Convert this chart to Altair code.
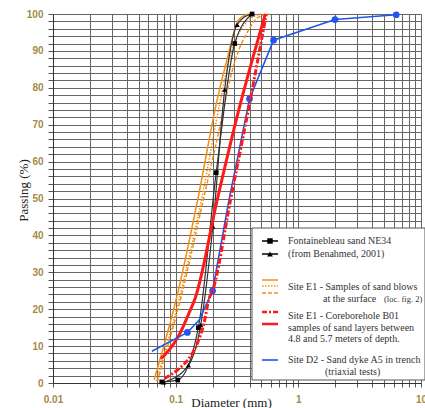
import altair as alt
import pandas as pd

# ---------------- data ----------------
# Fontainebleau sand NE34 (squares)
sq_d = [0.077, 0.104, 0.153, 0.214, 0.303, 0.42]
sq_p = [0.3, 0.8, 15, 57, 92, 100]
# Fontainebleau sand NE34 (triangles, Benahmed 2001)
tri_d = [0.08, 0.127, 0.16, 0.201, 0.251, 0.317, 0.41]
tri_p = [0.2, 4.8, 15.7, 42.4, 79.5, 97.1, 100]
# Site E1 sand blows: solid / dotted / dashed
os_d = [0.0668, 0.105, 0.152, 0.218, 0.262, 0.327, 0.394]
os_p = [0.9, 25, 50, 76.8, 87.6, 98.5, 100]
ot_d = [0.0695, 0.109, 0.163, 0.232, 0.275, 0.33, 0.40, 0.50]
ot_p = [0.5, 24, 50, 76.8, 88, 95, 98.5, 100]
oa_d = [0.071, 0.112, 0.169, 0.245, 0.267, 0.307, 0.394, 0.46, 0.58]
oa_p = [0.5, 24, 50, 74, 80, 87.6, 95.7, 98.9, 100]
# Site E1 coreborehole B01: solid / dash-dot
rs_d = [0.0757, 0.0884, 0.1066, 0.128, 0.1456, 0.218, 0.327, 0.538]
rs_p = [6.6, 8.9, 13, 18.8, 23.4, 49.6, 74, 100]
rd_d = [0.081, 0.1066, 0.128, 0.15, 0.17, 0.186, 0.202, 0.28, 0.406, 0.548]
rd_p = [1.2, 3.9, 6.6, 10.7, 16.1, 22.5, 25.5, 49.6, 76.8, 100]
# Site D2 sand dyke A5
bl_d = [0.064, 0.1245, 0.155, 0.2, 0.27, 0.40, 0.628, 1.99, 6.28]
bl_p = [8.6, 13.7, 17, 25, 49, 77, 92.9, 98.5, 99.8]
bl_m = [False, True, False, True, False, True, True, True, True]

x_ticks = [round(m * 10 ** k, 4) for k in (-2, -1, 0) for m in range(1, 10)] + [10]
y_ticks = list(range(0, 101, 2))

LABEL_COLOR = "#a48a4a"
GRID = "#666666"

xenc = alt.X(
    "d:Q",
    scale=alt.Scale(type="log", domain=[0.01, 10], nice=False),
    axis=alt.Axis(
        values=x_ticks,
        labelExpr="datum.value == 0.01 ? '0.01' : datum.value == 0.1 ? '0.1' : datum.value == 1 ? '1' : datum.value == 10 ? '10' : ''",
        labelOverlap=False,
        labelBound=False,
        labelFlush=False,
        grid=True,
        gridColor=GRID,
        gridWidth=1,
        tickColor="#555",
        tickSize=4,
        labelPadding=7,
        labelFont="Liberation Sans",
        labelFontSize=10,
        labelFontWeight="bold",
        labelColor=LABEL_COLOR,
        domainColor="#333",
        title="Diameter (mm)",
        titleFont="Liberation Serif",
        titleFontSize=13,
        titleFontWeight="normal",
        titleColor="#222",
        titleX=178,
        titleY=23,
        titleAlign="center",
        titleBaseline="alphabetic",
    ),
)
yenc = alt.Y(
    "p:Q",
    scale=alt.Scale(domain=[0, 100], nice=False),
    axis=alt.Axis(
        values=y_ticks,
        labelExpr="datum.value % 10 == 0 ? datum.label : ''",
        labelOverlap=False,
        grid=True,
        gridColor=GRID,
        gridWidth=1,
        tickColor="#555",
        tickSize=5,
        labelPadding=5,
        labelFont="Liberation Sans",
        labelFontSize=10,
        labelFontWeight="bold",
        labelColor=LABEL_COLOR,
        domainColor="#333",
        title="Passing (%)",
        titleFont="Liberation Serif",
        titleFontSize=13,
        titleFontWeight="normal",
        titleColor="#222",
        titleX=-30,
        titleY=176,
        titleAngle=270,
        titleAlign="center",
        titleBaseline="middle",
    ),
)


def df(d, p):
    return pd.DataFrame({"d": d, "p": p})


one = pd.DataFrame({"k": [0]})

ORANGE = "#f39019"
RED = "#ff1a1a"
BLUE = "#1f55f0"

layers = []
# legend box (covers grid)
layers.append(
    alt.Chart(one).mark_rect(fill="white", stroke="#555", strokeWidth=1).encode(
        x=alt.value(199), x2=alt.value(372), y=alt.value(214), y2=alt.value(366)
    )
)

# curves
layers.append(alt.Chart(df(os_d, os_p)).mark_line(color=ORANGE, strokeWidth=1.5, interpolate="monotone").encode(x=xenc, y=yenc))
layers.append(alt.Chart(df(ot_d, ot_p)).mark_line(color=ORANGE, strokeWidth=1.5, strokeDash=[1.5, 1.5], interpolate="monotone").encode(x=xenc, y=yenc))
layers.append(alt.Chart(df(oa_d, oa_p)).mark_line(color=ORANGE, strokeWidth=1.5, strokeDash=[4, 2], interpolate="monotone").encode(x=xenc, y=yenc))

layers.append(alt.Chart(df(sq_d, sq_p)).mark_line(color="#333", strokeWidth=1.2, interpolate="monotone").encode(x=xenc, y=yenc))
layers.append(alt.Chart(df(tri_d, tri_p)).mark_line(color="#333", strokeWidth=1.2, interpolate="monotone").encode(x=xenc, y=yenc))
layers.append(alt.Chart(df(sq_d, sq_p)).mark_point(shape="square", filled=True, color="black", size=22, opacity=1).encode(x=xenc, y=yenc))
layers.append(alt.Chart(df(tri_d, tri_p)).mark_point(shape="triangle-up", filled=True, color="black", size=26, opacity=1).encode(x=xenc, y=yenc))

layers.append(alt.Chart(df(rs_d, rs_p)).mark_line(color=RED, strokeWidth=3, interpolate="monotone").encode(x=xenc, y=yenc))

bl = pd.DataFrame({"d": bl_d, "p": bl_p, "m": bl_m})
layers.append(alt.Chart(bl).mark_line(color=BLUE, strokeWidth=1.6).encode(x=xenc, y=yenc))
layers.append(alt.Chart(bl).mark_circle(color=BLUE, size=45, opacity=1).encode(x=xenc, y=yenc).transform_filter("datum.m"))

layers.append(alt.Chart(df(rd_d, rd_p)).mark_line(color=RED, strokeWidth=3, strokeDash=[6, 2, 2, 2], interpolate="monotone").encode(x=xenc, y=yenc))

# legend content
LX1, LX2, LXM, TX = 209, 225, 217, 235


def rule(y, color, width, dash=None):
    kw = dict(color=color, strokeWidth=width)
    if dash:
        kw["strokeDash"] = dash
    return alt.Chart(one).mark_rule(**kw).encode(x=alt.value(LX1), x2=alt.value(LX2), y=alt.value(y))


def txt(x, y, s, size=10):
    return alt.Chart(one).mark_text(
        align="left", baseline="middle", font="Liberation Serif", fontSize=size, color="#333"
    ).encode(x=alt.value(x), y=alt.value(y), text=alt.value(s))


layers += [
    rule(227, "black", 1.5),
    alt.Chart(one).mark_point(shape="square", filled=True, color="black", size=30, opacity=1).encode(x=alt.value(LXM), y=alt.value(227)),
    txt(TX, 227, "Fontainebleau sand NE34"),
    rule(240, "black", 1.5),
    alt.Chart(one).mark_point(shape="triangle-up", filled=True, color="black", size=34, opacity=1).encode(x=alt.value(LXM), y=alt.value(240)),
    txt(TX, 240, "(from Benahmed, 2001)"),
    rule(266, ORANGE, 1.5),
    rule(272, ORANGE, 1.5, [1.5, 1.5]),
    rule(279, ORANGE, 1.5, [4, 2]),
    txt(TX, 272.5, "Site E1 - Samples of sand blows"),
    txt(270, 285, "at the surface"),
    txt(331, 285, "(loc. fig. 2)", 8.5),
    rule(298, RED, 2.5, [5, 2, 2, 2]),
    rule(310, RED, 2.5),
    txt(TX, 301.5, "Site E1 - Coreborehole B01"),
    txt(TX, 313.5, "samples of sand layers between"),
    txt(TX, 325, "4.8 and 5.7 meters of depth."),
    rule(346, BLUE, 1.6),
    txt(TX, 346, "Site D2 - Sand dyke A5 in trench"),
    txt(272, 358, "(triaxial tests)"),
]

chart = (
    alt.layer(*layers)
    .properties(
        width=368,
        height=369,
        autosize=alt.AutoSizeParams(type="none"),
        padding={"left": 53, "top": 14, "right": 4, "bottom": 25},
    )
    .configure_view(stroke="#333", strokeWidth=1)
    .configure(background="white")
)

chart.save("out.html", embed_options={"renderer": "svg", "actions": False})
